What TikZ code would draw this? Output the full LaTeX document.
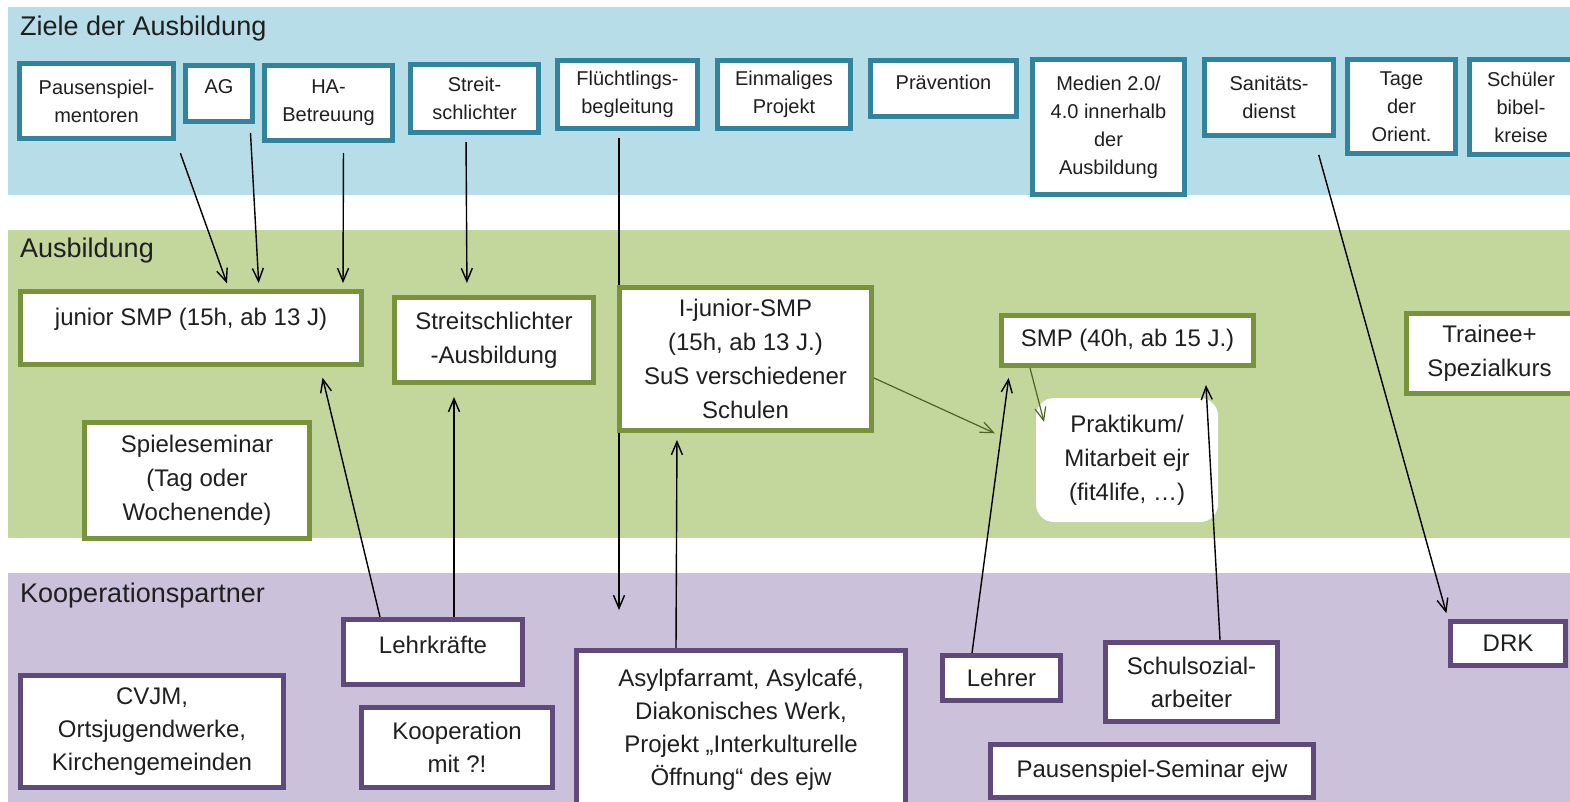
\documentclass[tikz,border=0pt]{standalone}
\usepackage{fontspec}
\setmainfont{Liberation Sans}
\usetikzlibrary{arrows.meta}
\usetikzlibrary{positioning}

\definecolor{goalband}{HTML}{B7DDE8}
\definecolor{goalline}{HTML}{31849B}
\definecolor{trainband}{HTML}{C3D69B}
\definecolor{trainline}{HTML}{77933C}
\definecolor{coopband}{HTML}{CCC1DA}
\definecolor{coopline}{HTML}{604A7B}
\definecolor{olivearrow}{HTML}{4F6228}

\newcommand{\titlefont}{\fontsize{27}{32}\selectfont}
\newcommand{\goalfont}{\fontsize{20}{28}\selectfont}
\newcommand{\coursefont}{\fontsize{24}{34}\selectfont}
\newcommand{\coopfont}{\fontsize{24}{33}\selectfont}

\pgfdeclarelayer{bands}
\pgfdeclarelayer{edges}
\pgfsetlayers{bands,edges,main}

\tikzset{
	align=center,
	whitebox/.style={
		draw,
		rectangle,
		fill=white,
		line width=5pt,
		text=black!88,
	},
	goal/.style={
		whitebox,
		draw=goalline,
		font=\goalfont,
	},
	course/.style={
		whitebox,
		draw=trainline,
		font=\coursefont,
	},
	partner/.style={
		whitebox,
		draw=coopline,
		font=\coopfont,
	},
	practice/.style={
		rectangle,
		fill=white,
		rounded corners=18pt,
		text=black!88,
		font=\coursefont,
	},
	bandtitle/.style={
		anchor=base west,
		inner sep=0pt,
		text=black!88,
		font=\titlefont,
	},
	link/.style={
		line width=1.4pt,
		-{Straight Barb[length=13pt,width=11pt]}
	},
	greenlink/.style={
		link,
		draw=olivearrow,
		line width=1.2pt,
	},
}

\begin{document}
\begin{tikzpicture}[x=1pt,y=-1pt]
	\useasboundingbox (0,0) rectangle (1570,801);

	\begin{pgfonlayer}{bands}
		\fill[goalband] (8,7) rectangle (1575,195);
		\fill[trainband] (8,230) rectangle (1575,538);
		\fill[coopband] (8,573) rectangle (1575,805);
		% the lines run over this one
		\node[practice, minimum width=182pt, minimum height=124pt] (prak) at (1127,460) {Praktikum/\\Mitarbeit ejr\\(fit4life, …)};
	\end{pgfonlayer}

	\node[bandtitle] (tgoal) at (20,35) {Ziele der Ausbildung};
	\node[bandtitle] (ttrain) at (20,257) {Ausbildung};
	\node[bandtitle] (tcoop) at (20,602) {Kooperationspartner};

	% Ziele der Ausbildung
	\node[goal, minimum width=154pt, minimum height=75pt] (pausen) at (96.5,101) {Pausenspiel-\\mentoren};
	\node[goal, minimum width=67pt, minimum height=56pt, text depth=13pt] (ag) at (219,93.5) {AG};
	\node[goal, minimum width=128pt, minimum height=75pt] (ha) at (328.5,103) {HA-\\Betreuung};
	\node[goal, minimum width=128pt, minimum height=68pt] (streit) at (474.5,98.5) {Streit-\\schlichter};
	\node[goal, minimum width=140pt, minimum height=68pt] (fluecht) at (627.5,94.5) {Flüchtlings-\\begleitung};
	\node[goal, minimum width=133pt, minimum height=68pt] (einmal) at (784,94.5) {Einmaliges\\Projekt};
	\node[goal, minimum width=146pt, minimum height=56pt, text depth=13pt] (praev) at (943.5,88.5) {Prävention};
	\node[goal, minimum width=152pt, minimum height=135pt] (medien) at (1108.5,127) {Medien 2.0/\\4.0 innerhalb\\der\\Ausbildung};
	\node[goal, minimum width=129pt, minimum height=76pt] (sani) at (1269,97.5) {Sanitäts-\\dienst};
	\node[goal, minimum width=108pt, minimum height=94pt] (tage) at (1401.5,106.5) {Tage\\der\\Orient.};
	\node[goal, minimum width=103pt, minimum height=95pt] (schueler) at (1521,107) {Schüler\\bibel-\\kreise};

	% Ausbildung
	\node[course, minimum width=341pt, minimum height=73pt, text depth=22pt] (jsmp) at (191,328) {junior SMP (15h, ab 13 J)};
	\node[course, minimum width=199pt, minimum height=85pt] (ssa) at (494,340) {Streitschlichter\\-Ausbildung};
	\node[course, minimum width=252pt, minimum height=143pt] (ijs) at (745.5,359) {I-junior-SMP\\(15h, ab 13 J.)\\SuS verschiedener\\Schulen};
	\node[course, minimum width=252pt, minimum height=50pt] (smp) at (1127.5,340.5) {SMP (40h, ab 15 J.)};
	\node[course, minimum width=166pt, minimum height=80pt] (trainee) at (1489.5,353.5) {Trainee+\\Spezialkurs};
	\node[course, minimum width=225pt, minimum height=116pt] (spiel) at (197,480.5) {Spieleseminar\\(Tag oder\\Wochenende)};

	% Kooperationspartner
	\node[partner, minimum width=179pt, minimum height=65pt, text depth=14pt] (lk) at (433,652) {Lehrkräfte};
	\node[partner, minimum width=263pt, minimum height=112pt] (cvjm) at (152,731.5) {CVJM,\\Ortsjugendwerke,\\Kirchengemeinden};
	\node[partner, minimum width=191pt, minimum height=80pt] (koop) at (457,747.5) {Kooperation\\mit ?!};
	\node[partner, minimum width=329pt, minimum height=159pt] (asyl) at (741,730) {Asylpfarramt, Asylcafé,\\Diakonisches Werk,\\Projekt „Interkulturelle\\Öffnung“ des ejw};
	\node[partner, minimum width=118pt, minimum height=45pt] (lehrer) at (1001.5,678) {Lehrer};
	\node[partner, minimum width=172pt, minimum height=79pt] (ssoz) at (1191.5,682) {Schulsozial-\\arbeiter};
	\node[partner, minimum width=323pt, minimum height=53pt] (pss) at (1152,771) {Pausenspiel-Seminar ejw};
	\node[partner, minimum width=115pt, minimum height=44pt] (drk) at (1508,643.5) {DRK};

	\begin{pgfonlayer}{edges}
		\draw[link, shorten <=13pt, shorten >=6pt] (pausen.south east) -- ([xshift=38pt]jsmp.north);
		\draw[link, shorten <=9pt, shorten >=6pt] ([xshift=31pt]ag.south) -- ([xshift=68pt]jsmp.north);
		\draw[link, shorten <=10pt, shorten >=6pt] ([xshift=15pt]ha.south) -- ([xshift=152pt]jsmp.north);
		\draw[link, shorten <=7pt, shorten >=12pt] ([xshift=-8.5pt]streit.south) -- ([xshift=-27pt]ssa.north);
		\draw[link, shorten <=7pt, shorten >=38pt] ([xshift=-8.5pt]fluecht.south) -- ([xshift=-122pt]asyl.north);
		\draw[link, shorten <=-8pt, shorten >=7pt] ([xshift=-65pt]asyl.north) -- ([xshift=-68.5pt]ijs.south);
		\draw[link, shorten <=-2pt, shorten >=11pt] ([xshift=-53pt]lk.north) -- ([xshift=129pt]jsmp.south);
		\draw[link, shorten <=-2pt, shorten >=12pt] ([xshift=21pt]lk.north) -- ([xshift=-40pt]ssa.south);
		\draw[link, shorten <=-13pt, shorten >=10pt] ([xshift=-29.5pt]lehrer.north) -- ([xshift=-117.5pt]smp.south);
		\draw[link, shorten <=-11pt, shorten >=17pt] ([xshift=28.5pt]ssoz.north) -- ([xshift=77.5pt]smp.south);
		\draw[link, shorten <=17.5pt, shorten >=6pt] ([xshift=45pt]sani.south) -- ([xshift=-60pt]drk.north);
	\end{pgfonlayer}

	\draw[greenlink, shorten >=45pt] ([yshift=-19pt]ijs.east) -- ([yshift=8pt]prak.west);
	\draw[greenlink] ([xshift=-97.5pt]smp.south) -- ([xshift=-83pt,yshift=-24pt]prak.north);

\end{tikzpicture}
\end{document}
